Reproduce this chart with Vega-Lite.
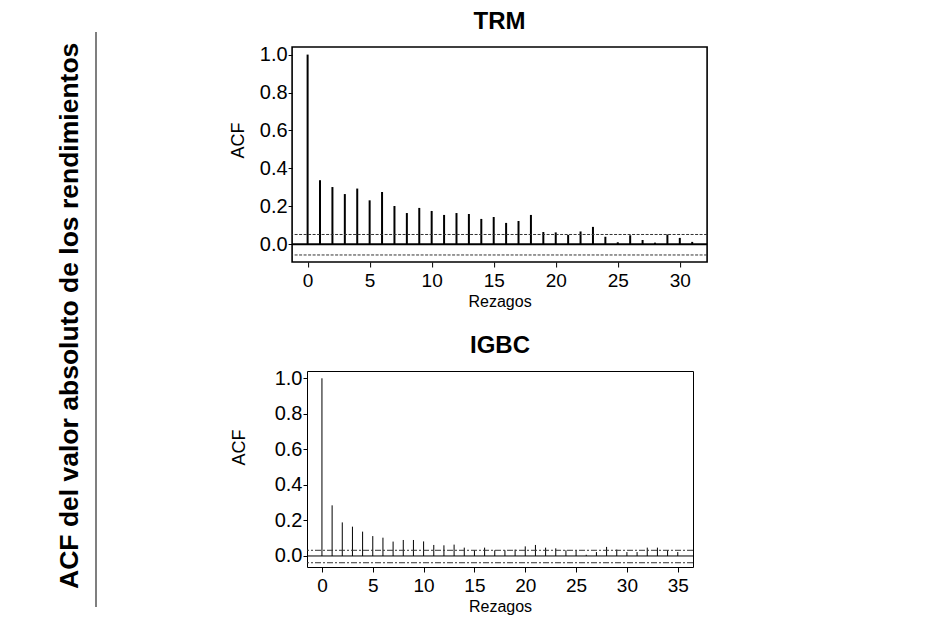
{
  "$schema": "https://vega.github.io/schema/vega-lite/v6.json",
  "padding": {"left": 44, "top": 8, "right": 0, "bottom": 0},
  "background": "white",
  "config": {
    "font": "Liberation Sans",
    "view": {"stroke": null},
    "axis": {"grid": false, "domain": false, "tickColor": "black", "labelColor": "black", "titleColor": "black", "titleFontWeight": "normal", "labelFont": "Liberation Sans", "titleFont": "Liberation Sans", "labelOverlap": false},
    "title": {"font": "Liberation Sans", "color": "black"}
  },
  "datasets": {
    "trm": [
      {"lag": 0, "acf": 1.0}, {"lag": 1, "acf": 0.338}, {"lag": 2, "acf": 0.302}, {"lag": 3, "acf": 0.265},
      {"lag": 4, "acf": 0.294}, {"lag": 5, "acf": 0.232}, {"lag": 6, "acf": 0.276}, {"lag": 7, "acf": 0.202},
      {"lag": 8, "acf": 0.165}, {"lag": 9, "acf": 0.192}, {"lag": 10, "acf": 0.176}, {"lag": 11, "acf": 0.155},
      {"lag": 12, "acf": 0.165}, {"lag": 13, "acf": 0.160}, {"lag": 14, "acf": 0.134}, {"lag": 15, "acf": 0.144},
      {"lag": 16, "acf": 0.113}, {"lag": 17, "acf": 0.123}, {"lag": 18, "acf": 0.155}, {"lag": 19, "acf": 0.065},
      {"lag": 20, "acf": 0.063}, {"lag": 21, "acf": 0.050}, {"lag": 22, "acf": 0.068}, {"lag": 23, "acf": 0.092},
      {"lag": 24, "acf": 0.040}, {"lag": 25, "acf": 0.011}, {"lag": 26, "acf": 0.048}, {"lag": 27, "acf": 0.023},
      {"lag": 28, "acf": 0.009}, {"lag": 29, "acf": 0.052}, {"lag": 30, "acf": 0.034}, {"lag": 31, "acf": 0.013}
    ],
    "igbc": [
      {"lag": 0, "acf": 1.0}, {"lag": 1, "acf": 0.285}, {"lag": 2, "acf": 0.189}, {"lag": 3, "acf": 0.165},
      {"lag": 4, "acf": 0.137}, {"lag": 5, "acf": 0.112}, {"lag": 6, "acf": 0.103}, {"lag": 7, "acf": 0.081},
      {"lag": 8, "acf": 0.090}, {"lag": 9, "acf": 0.090}, {"lag": 10, "acf": 0.082}, {"lag": 11, "acf": 0.062},
      {"lag": 12, "acf": 0.060}, {"lag": 13, "acf": 0.064}, {"lag": 14, "acf": 0.047}, {"lag": 15, "acf": 0.032},
      {"lag": 16, "acf": 0.047}, {"lag": 17, "acf": 0.032}, {"lag": 18, "acf": 0.032}, {"lag": 19, "acf": 0.036},
      {"lag": 20, "acf": 0.054}, {"lag": 21, "acf": 0.062}, {"lag": 22, "acf": 0.047}, {"lag": 23, "acf": 0.043},
      {"lag": 24, "acf": 0.032}, {"lag": 25, "acf": 0.032}, {"lag": 26, "acf": 0.007}, {"lag": 27, "acf": 0.022},
      {"lag": 28, "acf": 0.051}, {"lag": 29, "acf": 0.036}, {"lag": 30, "acf": 0.022}, {"lag": 31, "acf": 0.022},
      {"lag": 32, "acf": 0.047}, {"lag": 33, "acf": 0.047}, {"lag": 34, "acf": 0.032}, {"lag": 35, "acf": 0.022}
    ]
  },
  "spacing": 131,
  "hconcat": [
    {
      "width": 52,
      "height": 560,
      "data": {"values": [{"label": "ACF del valor absoluto de los rendimientos"}]},
      "layer": [
        {
          "mark": {"type": "text", "angle": 270, "fontSize": 26.5, "fontWeight": "bold", "align": "center", "baseline": "middle", "color": "black"},
          "encoding": {
            "text": {"field": "label"},
            "x": {"datum": 0.5, "type": "quantitative", "scale": {"domain": [0, 1]}, "axis": null},
            "y": {"datum": 0.52, "type": "quantitative", "scale": {"domain": [0, 1]}, "axis": null}
          }
        },
        {
          "mark": {"type": "rule", "color": "#555555", "strokeWidth": 1.5},
          "encoding": {"x": {"datum": 1, "type": "quantitative"}, "y": {"datum": 0, "type": "quantitative"}, "y2": {"datum": 1.027}}
        }
      ]
    },
    {
      "spacing": 23,
      "center": true,
      "vconcat": [
        {
          "width": 415,
          "height": 215,
          "title": {"text": "TRM", "fontSize": 24, "fontWeight": "bold", "frame": "group", "anchor": "middle", "offset": 11},
          "view": {"stroke": "black", "strokeWidth": 1.6},
          "layer": [
            {
              "data": {"name": "trm"},
              "mark": {"type": "rule", "color": "black", "strokeWidth": 2},
              "encoding": {
                "x": {"field": "lag", "type": "quantitative", "scale": {"domain": [-1.25, 32.2], "nice": false, "zero": false},
                      "axis": {"values": [0, 5, 10, 15, 20, 25, 30], "tickCount": 20, "title": "Rezagos", "tickSize": 5, "labelFontSize": 19, "titleFontSize": 16, "labelPadding": 4, "titlePadding": 3}},
                "y": {"field": "acf", "type": "quantitative", "scale": {"domain": [-0.093, 1.04], "nice": false, "zero": false},
                      "axis": {"values": [0, 0.2, 0.4, 0.6, 0.8, 1.0], "tickCount": 20, "format": ".1f", "title": "ACF", "titleY": 93, "tickSize": 4, "labelFontSize": 20, "titleFontSize": 18, "labelPadding": 1, "titlePadding": 12, "labelOverlap": false}},
                "y2": {"datum": 0}
              }
            },
            {
              "data": {"values": [{"level": 0}]},
              "mark": {"type": "rule", "color": "black", "strokeWidth": 2},
              "encoding": {"y": {"field": "level", "type": "quantitative"}}
            },
            {
              "data": {"values": [{"band": 0.052}, {"band": -0.056}]},
              "mark": {"type": "rule", "color": "#333333", "strokeWidth": 1, "strokeDash": [3, 1.5]},
              "encoding": {"y": {"field": "band", "type": "quantitative"}}
            }
          ]
        },
        {
          "width": 386,
          "height": 196,
          "title": {"text": "IGBC", "fontSize": 24, "fontWeight": "bold", "frame": "group", "anchor": "middle", "offset": 10},
          "view": {"stroke": "black", "strokeWidth": 1},
          "layer": [
            {
              "data": {"name": "igbc"},
              "mark": {"type": "rule", "color": "black", "strokeWidth": 1},
              "encoding": {
                "x": {"field": "lag", "type": "quantitative", "scale": {"domain": [-1.47, 36.5], "nice": false, "zero": false},
                      "axis": {"values": [0, 5, 10, 15, 20, 25, 30, 35], "tickCount": 20, "title": "Rezagos", "tickSize": 5, "labelFontSize": 19, "titleFontSize": 16, "labelPadding": 4, "titlePadding": 3}},
                "y": {"field": "acf", "type": "quantitative", "scale": {"domain": [-0.062, 1.041], "nice": false, "zero": false},
                      "axis": {"values": [0, 0.2, 0.4, 0.6, 0.8, 1.0], "tickCount": 20, "format": ".1f", "title": "ACF", "titleY": 76, "tickSize": 4, "labelFontSize": 20, "titleFontSize": 18, "labelPadding": 1, "titlePadding": 26, "labelOverlap": false}},
                "y2": {"datum": 0}
              }
            },
            {
              "data": {"values": [{"level": 0}]},
              "mark": {"type": "rule", "color": "black", "strokeWidth": 1},
              "encoding": {"y": {"field": "level", "type": "quantitative"}}
            },
            {
              "data": {"values": [{"band": 0.032}, {"band": -0.038}]},
              "mark": {"type": "rule", "color": "#333333", "strokeWidth": 1, "strokeDash": [6, 2, 2, 2]},
              "encoding": {"y": {"field": "band", "type": "quantitative"}}
            }
          ]
        }
      ]
    }
  ]
}
